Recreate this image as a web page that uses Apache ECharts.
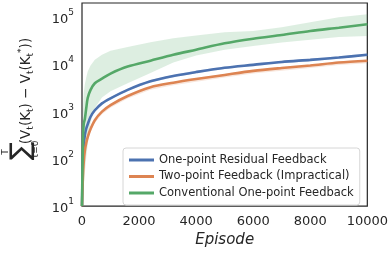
<!DOCTYPE html>
<html>
<head>
<meta charset="utf-8">
<script src="https://cdn.jsdelivr.net/npm/echarts@6/dist/echarts.min.js"></script>
<style>html,body{margin:0;padding:0;background:#fff}#c{width:391px;height:253px}</style>
</head>
<body>
<div id="c"></div>
<script>
const episodes = [0, 30, 60, 100, 150, 200, 300, 450, 700, 1000, 1600, 2400, 3200, 4000, 5000, 6000, 7000, 8000, 9000, 10000];

const residual     = [10, 100, 190, 320, 440, 540, 780, 1070, 1500, 1920, 2900, 4400, 5700, 6900, 8500, 9800, 11300, 12500, 14000, 16000];
const residualLow  = [10, 94, 179, 301, 414, 508, 733, 1006, 1410, 1805, 2726, 4136, 5358, 6486, 7990, 9212, 10622, 11750, 13160, 15040];
const residualHigh = [10, 106, 201, 339, 466, 572, 827, 1134, 1590, 2035, 3074, 4664, 6042, 7314, 9010, 10388, 11978, 13250, 14840, 16960];

const twoPoint     = [10, 40, 85, 150, 220, 290, 430, 660, 1000, 1380, 2150, 3300, 4100, 4900, 6000, 7300, 8400, 9500, 11000, 12000];
const twoPointLow  = [10, 35, 75, 132, 194, 255, 378, 581, 880, 1214, 1892, 2904, 3608, 4312, 5280, 6424, 7392, 8360, 9680, 10560];
const twoPointHigh = [10, 42, 89, 158, 231, 305, 452, 693, 1050, 1449, 2258, 3465, 4305, 5145, 6300, 7665, 8820, 9975, 11550, 12600];

const conventional     = [10, 200, 550, 700, 1200, 1950, 2900, 4000, 5000, 6400, 9000, 12000, 16000, 20500, 28000, 35000, 42000, 51000, 60000, 71000];
const conventionalLow  = [10, 15, 25, 50, 110, 200, 600, 1200, 2000, 2700, 4000, 6600, 11000, 15500, 20500, 24500, 29000, 33500, 38000, 40000];
const conventionalHigh = [10, 1000, 2500, 3800, 5300, 7100, 9500, 12500, 16000, 19500, 23500, 29500, 36000, 41000, 48000, 51000, 61000, 78000, 100000, 115000];

const seriesNames = ['One-point Residual Feedback', 'Two-point Feedback (Impractical)', 'Conventional One-point Feedback'];
const xTicks = [0, 2000, 4000, 6000, 8000, 10000];
const yTicks = [10, 100, 1000, 10000, 100000];

const colors = ['#4c72b0', '#dd8452', '#55a868'];
const FONT = 'DejaVu Sans';
const TXT = '#262626';

function bandSeries(low, high, color, opacity) {
  return {
    type: 'custom',
    silent: true,
    z: 1,
    clip: true,
    data: episodes.map((e, i) => [e, low[i], high[i]]),
    encode: { x: 0, y: [1, 2] },
    renderItem: function (params, api) {
      if (params.dataIndex !== 0) return null;
      const pts = [];
      for (let i = 0; i < episodes.length; i++) pts.push(api.coord([episodes[i], high[i]]));
      for (let i = episodes.length - 1; i >= 0; i--) pts.push(api.coord([episodes[i], low[i]]));
      return { type: 'polygon', shape: { points: pts }, style: { fill: color, opacity: opacity, stroke: null } };
    }
  };
}
function lineSeries(name, vals, color) {
  return {
    name: name, type: 'line', z: 3, symbol: 'none', smooth: 0.3,
    data: episodes.map((e, i) => [e, vals[i]]),
    lineStyle: { color: color, width: 2.6 }, itemStyle: { color: color }
  };
}

const chart = echarts.init(document.getElementById('c'), null, { renderer: 'canvas' });
chart.setOption({
  animation: false,
  backgroundColor: '#fff',
  grid: { left: 82, right: 23, top: 3, bottom: 43, show: true, borderColor: '#262626', borderWidth: 1.2, backgroundColor: 'transparent' },
  xAxis: {
    type: 'value', min: 0, max: 10000, interval: 2000,
    axisLine: { show: false }, axisTick: { show: false }, splitLine: { show: false },
    axisLabel: { fontFamily: FONT, fontSize: 13, color: TXT, margin: 9,
      formatter: v => xTicks.indexOf(v) >= 0 ? String(v) : '' },
    name: 'Episode', nameLocation: 'middle', nameGap: 26,
    nameTextStyle: { fontFamily: FONT, fontStyle: 'italic', fontSize: 15, color: TXT }
  },
  yAxis: {
    type: 'log', logBase: 10, min: 10, max: 200000,
    axisLine: { show: false }, axisTick: { show: false }, splitLine: { show: false },
    axisLabel: {
      showMaxLabel: false, margin: 8,
      formatter: v => {
        if (yTicks.indexOf(Math.round(v)) < 0) return '';
        return '{b|10}{s|' + Math.round(Math.log10(v)) + '}';
      },
      rich: {
        b: { fontFamily: FONT, fontSize: 13, color: TXT, lineHeight: 18, verticalAlign: 'bottom' },
        s: { fontFamily: FONT, fontSize: 9, color: TXT, lineHeight: 10, verticalAlign: 'top' }
      }
    }
  },
  legend: {
    orient: 'vertical', left: 123, top: 148,
    itemWidth: 25, itemHeight: 3, itemGap: 4.5,
    padding: [6, 6, 6, 6],
    backgroundColor: '#fff', borderColor: '#d6d6d6', borderWidth: 1, borderRadius: 3,
    textStyle: { fontFamily: FONT, fontSize: 11.5, color: TXT },
    data: seriesNames.map(n => ({ name: n, icon: 'rect' }))
  },
  graphic: [{
    type: 'group', x: 25, y: 105, rotation: Math.PI / 2,
    children: [
      { type: 'text', x: 14, y: 1, style: {
          text: '{p|(V}{sb|t}{p|(K}{sb|t}{p|) − V}{sb|t}{p|(K}{sb|t}{sp|*}{p|))}',
          align: 'center', verticalAlign: 'middle',
          rich: {
            p: { fontFamily: FONT, fontSize: 13.5, fill: TXT, lineHeight: 18, verticalAlign: 'middle' },
            sb: { fontFamily: FONT, fontSize: 9, fill: TXT, lineHeight: 10, verticalAlign: 'bottom' },
            sp: { fontFamily: FONT, fontSize: 9, fill: TXT, lineHeight: 10, verticalAlign: 'top' }
          } } },
      { type: 'text', x: -46, y: -3, style: { text: '∑', fontFamily: FONT, fontSize: 27, fill: TXT, align: 'center', verticalAlign: 'middle' } },
      { type: 'text', x: -47, y: -19, style: { text: 'T', fontFamily: FONT, fontSize: 9, fill: TXT, align: 'center', verticalAlign: 'middle' } },
      { type: 'text', x: -44, y: 11, style: { text: 't=0', fontFamily: FONT, fontSize: 9, fill: TXT, align: 'center', verticalAlign: 'middle' } }
    ]
  }],
  series: [
    bandSeries(residualLow, residualHigh, colors[0], 0.2),
    bandSeries(twoPointLow, twoPointHigh, colors[1], 0.2),
    bandSeries(conventionalLow, conventionalHigh, colors[2], 0.2),
    lineSeries(seriesNames[0], residual, colors[0]),
    lineSeries(seriesNames[1], twoPoint, colors[1]),
    lineSeries(seriesNames[2], conventional, colors[2])
  ]
});
</script>
</body>
</html>
